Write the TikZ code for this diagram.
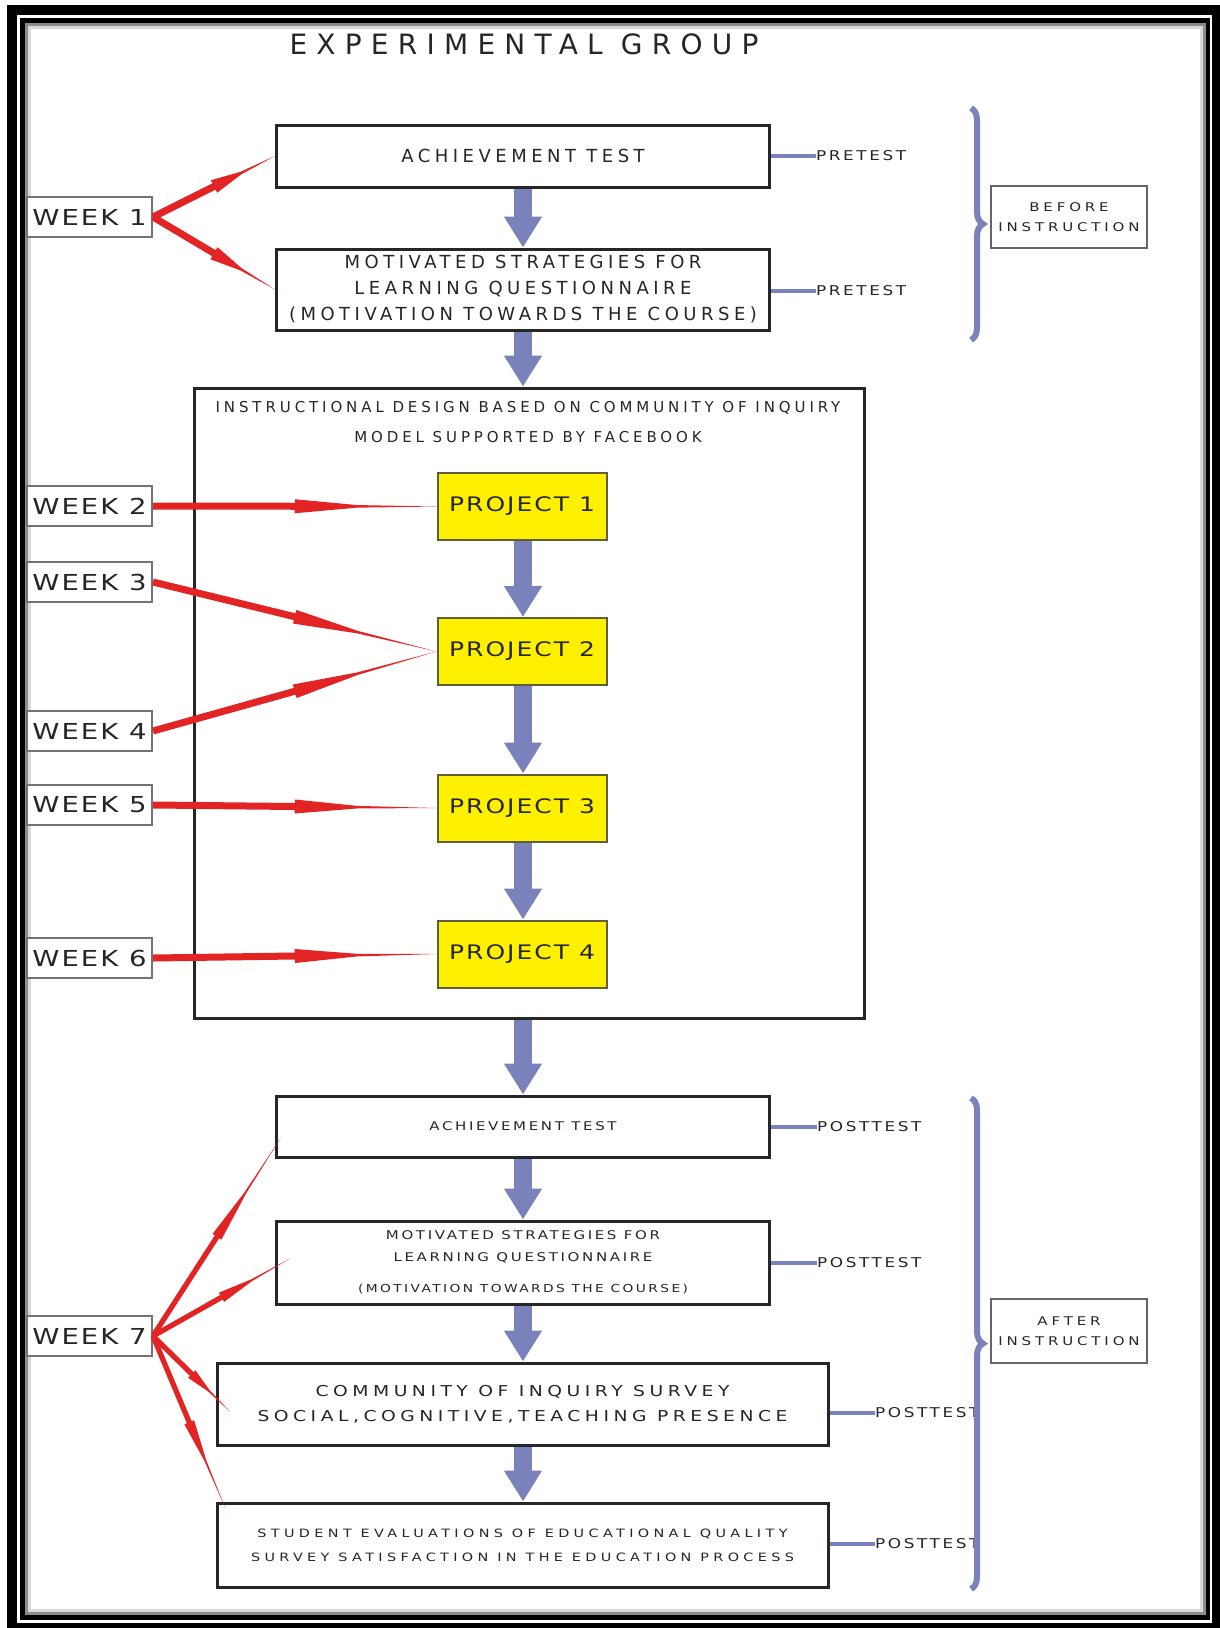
\documentclass[tikz,border=0pt]{standalone}
\usepackage{fontspec}
\setmainfont{DejaVu Sans}
\usetikzlibrary{positioning,calc,arrows.meta,decorations.pathreplacing}

\definecolor{flowblue}{RGB}{122,130,188}
\definecolor{wkred}{RGB}{226,36,36}
\definecolor{projyellow}{RGB}{255,240,0}
\definecolor{ink}{RGB}{38,38,38}

\newcommand\ls[1]{\addfontfeature{LetterSpace=#1}}
\newcommand\wls[1]{\addfontfeature{FakeStretch=1.25,LetterSpace=#1}}
\newcommand\fs[2]{\fontsize{#1}{#2}\selectfont}

% tapered red arrow with a barb half way
\newcommand\wkarrow[3][1]{%
  \pgfmathsetmacro\wa{3.5*#1}\pgfmathsetmacro\wb{7*#1}\pgfmathsetmacro\wc{1.3*#1}%
  \fill[wkred] ($(#2)!\wa pt!90:(#3)$) -- ($(#2)!.5!(#3)!\wa pt!90:(#3)$)
    -- ($(#2)!.5!(#3)!\wb pt!90:(#3)$) -- ($(#2)!.72!(#3)!\wc pt!90:(#3)$)
    -- (#3) -- ($(#2)!.72!(#3)!\wc pt!-90:(#3)$)
    -- ($(#2)!.5!(#3)!\wb pt!-90:(#3)$) -- ($(#2)!.5!(#3)!\wa pt!-90:(#3)$)
    -- ($(#2)!\wa pt!-90:(#3)$) -- cycle;}

\begin{document}
\begin{tikzpicture}[x=1pt,y=-1pt,
  box/.style={draw=ink,line width=3pt,fill=white,inner sep=0pt,align=center,text=ink},
  upper/.style={box,minimum width=493pt,font=\fs{18}{26}\ls{25}},
  lower/.style={box,font=\fs{12}{22}\wls{22}},
  week/.style={draw=black!55,line width=2pt,fill=white,minimum width=125pt,minimum height=40pt,
    inner sep=0pt,text=ink,font=\fs{22}{24}\wls{9}},
  proj/.style={draw={rgb,255:red,95;green,95;blue,55},line width=2pt,fill=projyellow,
    minimum width=169pt,minimum height=67pt,inner sep=0pt,text=ink,font=\fs{20}{24}\wls{10}},
  tag/.style={inner sep=0pt,anchor=west,text=ink,font=\fs{13.5}{16}\wls{19}},
  phase/.style={draw=black!60,line width=1.5pt,fill=white,minimum width=156pt,inner sep=0pt,
    align=center,text=ink,font=\fs{12}{20}\wls{32}},
  flow/.style={draw=flowblue,line width=18pt,-{Triangle[width=36pt,length=31pt]}},
  tagline/.style={draw=flowblue,line width=4pt},
  bracket/.style={draw=flowblue,line width=6pt,decorate,decoration={brace,amplitude=12pt}}]
  \useasboundingbox (0,0) rectangle (1220,1628);

  % frame
  \fill (7,5) rectangle (1220,1628);
  \fill[white] (17,15) rectangle (1212,1623);
  \fill (20,18) rectangle (1210,1620);
  \fill[black!45] (25,23) rectangle (1206,1615);
  \fill[black!15] (28,26) rectangle (1203,1612);
  \fill[white] (31,29) rectangle (1200,1609);

  \node[font=\fs{28}{34}\ls{33},text=ink] (title) at (524,44) {EXPERIMENTAL GROUP};

  \node[upper,minimum height=62pt] (ach1) at (523,156) {ACHIEVEMENT TEST};
  \node[upper,minimum height=81pt] (msq1) at (523,289.5)
    {MOTIVATED STRATEGIES FOR\\LEARNING QUESTIONNAIRE\\(MOTIVATION TOWARDS THE COURSE)};

  \node[box,minimum width=670pt,minimum height=630pt] (design) at (529,703) {};
  \node[text=ink,font=\fs{15}{30}\ls{26},align=center] (dtitle) at (528,422)
    {INSTRUCTIONAL DESIGN BASED ON COMMUNITY OF INQUIRY\\MODEL SUPPORTED BY FACEBOOK};

  \foreach \n/\y in {1/506.5, 2/651.5, 3/808, 4/954}
    \node[proj] (p\n) at (522,\y) {PROJECT \n};

  \node[lower,minimum width=493pt,minimum height=61pt] (ach2) at (523,1126.5) {ACHIEVEMENT TEST};
  \node[lower,minimum width=493pt,minimum height=83pt] (msq2) at (523,1262.5)
    {MOTIVATED STRATEGIES FOR\\LEARNING QUESTIONNAIRE\\[9pt]{\fs{11}{13}(MOTIVATION TOWARDS THE COURSE)}};
  \node[lower,minimum width=611pt,minimum height=82pt,font=\fs{15}{25}\wls{30}] (coi) at (522.5,1404)
    {COMMUNITY OF INQUIRY SURVEY\\SOCIAL,COGNITIVE,TEACHING PRESENCE};
  \node[lower,minimum width=611pt,minimum height=84pt,font=\fs{11.5}{24}\wls{38}] (seq) at (522.5,1545)
    {STUDENT EVALUATIONS OF EDUCATIONAL QUALITY\\SURVEY SATISFACTION IN THE EDUCATION PROCESS};

  \node[phase,minimum height=62pt] (before) at (1069,217) {BEFORE\\INSTRUCTION};
  \node[phase,minimum height=64pt] (after) at (1069,1331) {AFTER\\INSTRUCTION};

  \foreach \n/\y in {1/217, 2/506, 3/582, 4/731, 5/805, 6/958, 7/1336}
    \node[week] (wk\n) at (89.5,\y) {WEEK \n};

  \foreach \b/\t/\n/\x/\y in {ach1/pre1/PRETEST/816/156, msq1/pre2/PRETEST/816/291,
    ach2/post1/POSTTEST/817/1127, msq2/post2/POSTTEST/817/1263,
    coi/post3/POSTTEST/875/1413, seq/post4/POSTTEST/875/1544}{
    \node[tag] (\t) at (\x,\y) {\n};
    \draw[tagline] (\b.east |- \t.west) -- (\t.west);
  }

  \draw[bracket] (971,108) -- (971,340);
  \draw[bracket] (971,1098) -- (971,1589);

  \foreach \s/\t in {ach1/msq1, msq1/design, p1/p2, p2/p3, p3/p4, design/ach2, ach2/msq2, msq2/coi, coi/seq}
    \draw[flow] (\s.south -| ach1.center) -- (\t.north -| ach1.center);

  \foreach \s/\t in {wk1/ach1, wk1/msq1, wk2/p1, wk3/p2, wk4/p2, wk5/p3, wk6/p4}
    \wkarrow{\s.east}{\t.west};

  \coordinate (t1) at ($(ach2.west)+(6,11)$);
  \coordinate (t2) at ($(msq2.west)+(15,-4)$);
  \coordinate (t3) at ($(coi.west)+(15,8)$);
  \coordinate (t4) at ($(seq.north west)+(10,7)$);
  \foreach \t in {t1,t2,t3,t4}
    \wkarrow[0.75]{wk7.east}{\t};

\end{tikzpicture}
\end{document}
